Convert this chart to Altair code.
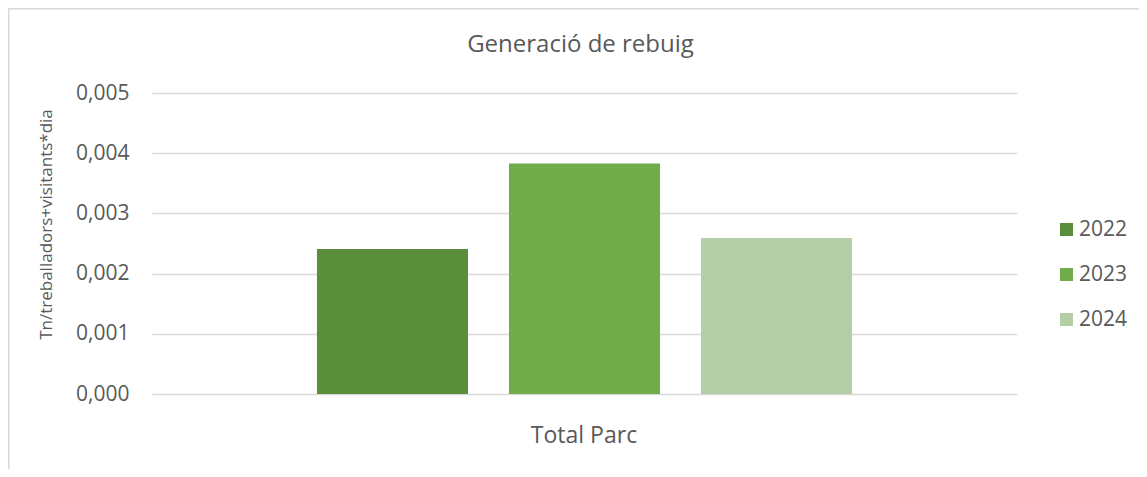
import altair as alt
import pandas as pd

years = ["2022", "2023", "2024"]
values = [0.00241, 0.00383, 0.00259]
colors = ["#5B8E3A", "#71AC4A", "#B4CEA6"]
category = "Total Parc"
title_text = "Generació de rebuig"

df = pd.DataFrame({"year": years, "value": values})

FONT = "Open Sans"
TXT = "#595959"
W, H = 865, 301
PL, PT = 144, 85
PR = 1131 - PL - W
PB = 461 - PT - H

bars = alt.Chart(df).mark_bar().encode(
    x=alt.X("year:N",
            scale=alt.Scale(paddingInner=0.2135, paddingOuter=0.859),
            axis=alt.Axis(labels=False, ticks=False, domain=False, grid=False,
                          title=category, titleFontSize=23, titleFont=FONT,
                          titleColor=TXT, titleFontWeight="normal",
                          titleX=W / 2 - 1, titleY=41, titleBaseline="middle")),
    y=alt.Y("value:Q",
            scale=alt.Scale(domain=[0, 0.005]),
            axis=alt.Axis(values=[0, 0.001, 0.002, 0.003, 0.004, 0.005],
                          labelExpr="replace(format(datum.value, '.3f'), '.', ',')",
                          labelFontSize=21, labelFont=FONT, labelColor=TXT,
                          labelPadding=23, ticks=False, domain=False,
                          gridColor="#D9D9D9", gridWidth=1.5,
                          title="Tn/treballadors+visitants*dia",
                          titleFontSize=17, titleFont=FONT, titleColor=TXT,
                          titleFontWeight="normal", titleAngle=-90,
                          titleX=-106, titleY=131, titleAlign="center",
                          titleBaseline="middle")),
    color=alt.Color("year:N",
                    scale=alt.Scale(domain=years, range=colors),
                    legend=alt.Legend(title=None, orient="none",
                                      legendX=904, legendY=126,
                                      symbolType="square", symbolSize=169,
                                      symbolStrokeWidth=0, symbolOpacity=1,
                                      labelFontSize=21, labelFont=FONT,
                                      labelColor=TXT, rowPadding=23,
                                      labelOffset=2)),
)

title_df = pd.DataFrame({"t": [title_text]})
title = alt.Chart(title_df).mark_text(
    font=FONT, fontSize=24, color=TXT, align="center", baseline="middle"
).encode(text="t:N", x=alt.value(W / 2 - 4), y=alt.value(-48))

frame_top = alt.Chart(df).mark_rule(color="#D9D9D9", strokeWidth=1.5).encode(
    x=alt.value(-PL), x2=alt.value(W + PR), y=alt.value(-PT + 0.5))
frame_left = alt.Chart(df).mark_rule(color="#D9D9D9", strokeWidth=1.5).encode(
    x=alt.value(-PL + 0.5), y=alt.value(-PT), y2=alt.value(H + PB))

chart = alt.layer(bars, title, frame_top, frame_left).properties(
    width=W, height=H,
    autosize=alt.AutoSizeParams(type="none"),
    padding={"left": PL, "top": PT, "right": PR, "bottom": PB},
).configure_view(stroke=None)

chart.save("out.html", embed_options={"renderer": "svg", "actions": False})
